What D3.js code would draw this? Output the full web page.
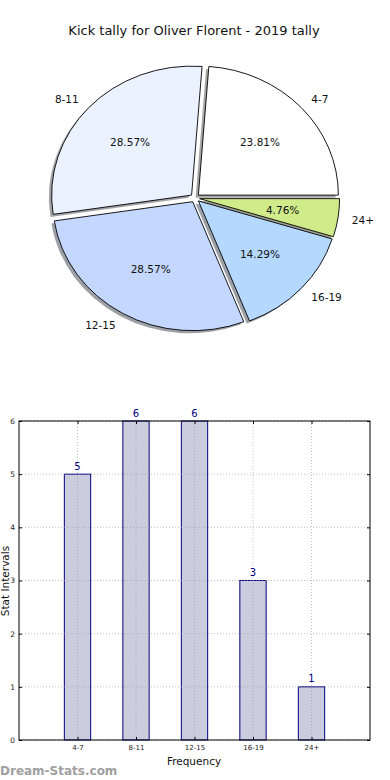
<!DOCTYPE html>
<html>
<head>
<script src="https://d3js.org/d3.v7.min.js"></script>
<style>
  body { margin: 0; background: #fff; }
  svg { display: block; }
  text { font-family: 'DejaVu Sans', sans-serif; }
</style>
</head>
<body>
<script>
// data
const categories = ['4-7', '8-11', '12-15', '16-19', '24+'];
const counts = [5, 6, 6, 3, 1];
const sliceColors = ['#ffffff', '#eaf1ff', '#c4d7ff', '#b4d8ff', '#cfeb8a'];
const yTicks = [0, 1, 2, 3, 4, 5, 6];
const title = 'Kick tally for Oliver Florent - 2019 tally';

const W = 390, H = 780;
const svg = d3.select('body').append('svg').attr('width', W).attr('height', H);

svg.append('text').attr('x', 194).attr('y', 30)
  .attr('text-anchor', 'middle').attr('dominant-baseline', 'central')
  .attr('font-size', 13).attr('fill', '#111').text(title);

// ---- pie (elliptical, exploded, with shadow) ----
const cx = 195, cy = 198, rx = 140, ry = 129, explode = 0.033;
const total = d3.sum(counts);
const slices = d3.pie().sort(null).value(d => d)(counts);
const arc = d3.arc().innerRadius(0).outerRadius(100);

const pieData = slices.map((p, i) => {
  const a0 = p.startAngle, a1 = p.endAngle; // counter-clockwise from 3 o'clock
  const mid = (a0 + a1) / 2;
  return {
    i, value: p.value,
    path: arc({ startAngle: Math.PI / 2 - a1, endAngle: Math.PI / 2 - a0 }),
    mid,
    ox: cx + explode * rx * Math.cos(mid),
    oy: cy - explode * ry * Math.sin(mid)
  };
});

const sx = rx / 100, sy = ry / 100;
const shadows = svg.append('g');
pieData.forEach(d => {
  const c = d3.rgb(sliceColors[d.i]);
  shadows.append('path')
    .attr('d', d.path)
    .attr('transform', `translate(${d.ox - 0.02 * rx},${d.oy + 0.02 * ry}) scale(${sx},${sy})`)
    .attr('fill', d3.rgb(c.r * 0.3, c.g * 0.3, c.b * 0.3))
    .attr('fill-opacity', 0.5);
});
const wedges = svg.append('g');
pieData.forEach(d => {
  wedges.append('path')
    .attr('d', d.path)
    .attr('transform', `translate(${d.ox},${d.oy}) scale(${sx},${sy})`)
    .attr('fill', sliceColors[d.i])
    .attr('stroke', '#000')
    .attr('stroke-width', 0.9)
    .attr('vector-effect', 'non-scaling-stroke');
});
pieData.forEach(d => {
  const c = Math.cos(d.mid), s = Math.sin(d.mid);
  svg.append('text')
    .attr('x', d.ox + 1.1 * rx * c).attr('y', d.oy - 1.1 * ry * s)
    .attr('text-anchor', c > 0 ? 'start' : 'end')
    .attr('dominant-baseline', 'central')
    .attr('font-size', 10.5).attr('fill', '#111')
    .text(categories[d.i]);
  svg.append('text')
    .attr('x', d.ox + 0.6 * rx * c).attr('y', d.oy - 0.6 * ry * s)
    .attr('text-anchor', 'middle')
    .attr('dominant-baseline', 'central')
    .attr('font-size', 10.5).attr('fill', '#111')
    .text((d.value / total * 100).toFixed(2) + '%');
});

// ---- bar chart ----
const L = 19, R = 370, T = 421, B = 740;
const x = d3.scaleLinear().domain([-1, 5]).range([L, R]);
const y = d3.scaleLinear().domain([0, 6]).range([B, T]);
const barW = 0.45;
const idx = categories.map((c, i) => i);

svg.append('g').selectAll('rect').data(counts).join('rect')
  .attr('x', (d, i) => x(i - barW / 2))
  .attr('y', d => y(d))
  .attr('width', x(barW) - x(0))
  .attr('height', d => B - y(d))
  .attr('fill', '#ccccdf')
  .attr('stroke', '#000080')
  .attr('stroke-width', 1);

// grid (above bars)
const grid = svg.append('g').attr('stroke', '#999').attr('stroke-width', 1)
  .attr('stroke-dasharray', '1,2').attr('opacity', 0.6);
grid.selectAll('.gy').data(yTicks).join('line')
  .attr('x1', L).attr('x2', R).attr('y1', d => y(d)).attr('y2', d => y(d));
grid.selectAll('.gx').data(idx).join('line')
  .attr('x1', d => x(d)).attr('x2', d => x(d)).attr('y1', T).attr('y2', B);

// value labels
svg.append('g').selectAll('text').data(counts).join('text')
  .attr('x', (d, i) => x(i)).attr('y', d => y(d) - 8)
  .attr('text-anchor', 'middle').attr('dominant-baseline', 'central')
  .attr('font-size', 10).attr('fill', '#000080')
  .text(d => d);

// axes
const yAxis = svg.append('g').attr('transform', `translate(${L},0)`)
  .call(d3.axisLeft(y).tickValues(yTicks).tickFormat(d3.format('d'))
    .tickSizeInner(-3).tickSizeOuter(0).tickPadding(4));
const xAxis = svg.append('g').attr('transform', `translate(0,${B})`)
  .call(d3.axisBottom(x).tickValues(idx).tickFormat(i => categories[i])
    .tickSizeInner(-3).tickSizeOuter(0).tickPadding(5));
svg.append('g').attr('transform', `translate(${R},0)`)
  .call(d3.axisRight(y).tickValues(yTicks).tickFormat('').tickSizeInner(-3).tickSizeOuter(0));
svg.append('g').attr('transform', `translate(0,${T})`)
  .call(d3.axisTop(x).tickValues(idx).tickFormat('').tickSizeInner(-3).tickSizeOuter(0));
svg.selectAll('.domain').remove();
svg.selectAll('.tick line').attr('stroke', '#000');
yAxis.selectAll('text').attr('font-size', 7.5).attr('fill', '#222').attr('font-family', 'DejaVu Sans');
xAxis.selectAll('text').attr('font-size', 7).attr('fill', '#222').attr('font-family', 'DejaVu Sans');

svg.append('rect').attr('x', L).attr('y', T).attr('width', R - L).attr('height', B - T)
  .attr('fill', 'none').attr('stroke', '#000').attr('stroke-width', 1);

svg.append('text').attr('x', 194).attr('y', 761)
  .attr('text-anchor', 'middle').attr('dominant-baseline', 'central')
  .attr('font-size', 10.5).attr('fill', '#111').text('Frequency');
svg.append('text').attr('transform', 'translate(8.5,581) rotate(-90)')
  .attr('text-anchor', 'middle')
  .attr('font-size', 10.5).attr('fill', '#111').text('Stat Intervals');

svg.append('text').attr('x', 0).attr('y', 775)
  .attr('font-size', 12).attr('font-weight', 600).attr('fill', '#a0a0a0').text('Dream-Stats.com');
</script>
</body>
</html>
